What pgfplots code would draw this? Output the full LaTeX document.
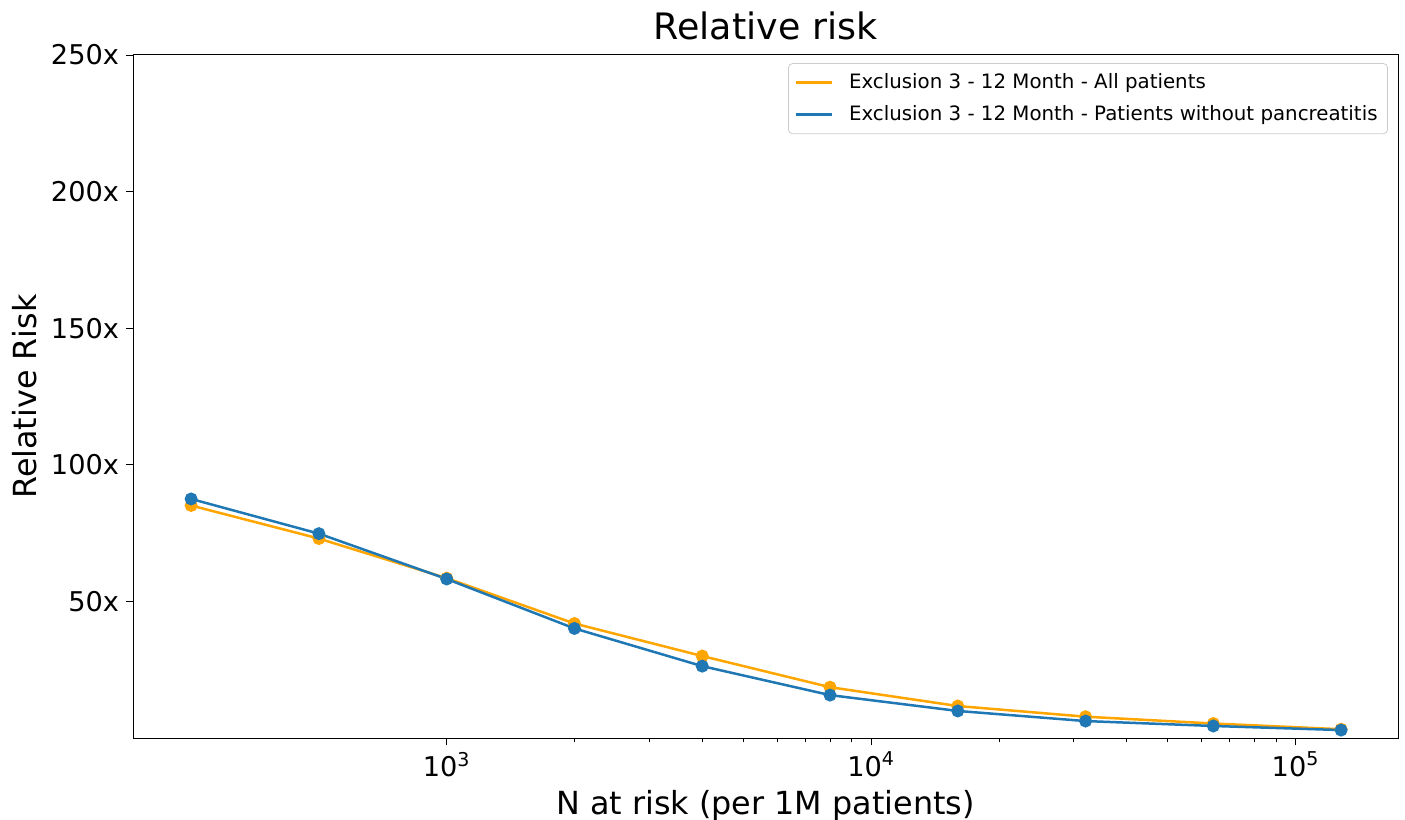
\documentclass[border=0pt]{standalone}
\usepackage{pgfplots}
\pgfplotsset{compat=1.18}
\usetikzlibrary{calc}
\usepackage{fontspec}
\setmainfont{DejaVu Sans}
\definecolor{mplorange}{HTML}{FFA500}
\definecolor{mplblue}{HTML}{1F77B4}
\begin{document}
\begin{tikzpicture}
\begin{axis}[
  name=ax,
  scale only axis,
  width=632.5pt, height=341.5pt,
  xmode=log,
  xmin=182.4, xmax=174300,
  ymin=0, ymax=250,
  xtick={1000,10000,100000},
  xticklabels={10\textsuperscript{3},10\textsuperscript{4},10\textsuperscript{5}},
  ytick={50,100,150,200,250},
  yticklabels={50x,100x,150x,200x,250x},
  /pgf/number format/assume math mode=true,
  tick align=outside,
  xtick pos=bottom, ytick pos=left,
  major tick length=3.5pt,
  minor tick length=2pt,
  tick style={black, line width=0.4pt},
  axis line style={black, line width=0.5pt},
  ticklabel style={font=\fontsize{13.6}{16}\selectfont},
  xlabel={N at risk (per 1M patients)},
  ylabel={Relative Risk},
  label style={font=\fontsize{15.9}{19}\selectfont},
  title={Relative risk},
  title style={font=\fontsize{18.2}{22}\selectfont, yshift=-2pt},
  legend style={
    at={(0.992,0.988)}, anchor=north east,
    font=\fontsize{9.9}{12}\selectfont,
    draw=black!20, rounded corners=2pt, fill=white,
    row sep=3pt, column sep=6pt, inner xsep=3pt, inner ysep=3pt,
  },
  legend cell align=left,
  legend image post style={mark=none},
  legend image code/.code={\draw[#1] (0pt,0pt) -- (18pt,0pt);},
]
\addplot[mplorange, line width=1.25pt, mark=*, mark size=2.6pt, mark options={solid}] coordinates {
 (250,85.1) (500,73.0) (1000,58.5) (2000,41.9) (4000,30.0)
 (8000,18.6) (16000,11.7) (32000,7.8) (64000,5.3) (128000,3.2)
};
\addlegendentry{Exclusion 3 - 12 Month - All patients}
\addplot[mplblue, line width=1.25pt, mark=*, mark size=2.6pt, mark options={solid}] coordinates {
 (250,87.5) (500,74.8) (1000,58.2) (2000,40.1) (4000,26.3)
 (8000,15.7) (16000,9.9) (32000,6.2) (64000,4.4) (128000,2.9)
};
\addlegendentry{Exclusion 3 - 12 Month - Patients without pancreatitis}
\end{axis}
\pgfresetboundingbox
\path[use as bounding box] ($(ax.south west)+(-66.5pt,-41pt)$) rectangle ($(ax.south west)+(636pt,369pt)$);
\end{tikzpicture}
\end{document}
